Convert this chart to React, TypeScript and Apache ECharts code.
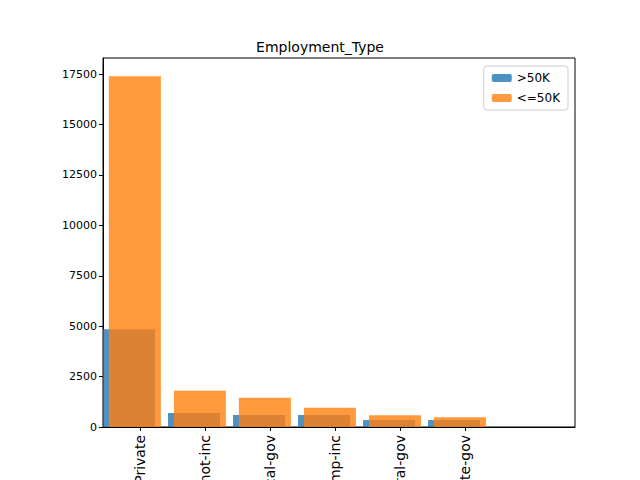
import { useEffect, useRef } from 'react';
import * as echarts from 'echarts';

const categories = ['Private', 'Self-emp-not-inc', 'Local-gov', 'Self-emp-inc', 'Federal-gov', 'State-gov'];
const above50k = [4850, 700, 600, 600, 350, 350];
const below50k = [17400, 1800, 1450, 950, 580, 480];
const tickIdx = [0, 1, 2, 3, 4, 5];

export default function App() {
  const ref = useRef<HTMLDivElement>(null);

  useEffect(() => {
    if (!ref.current) return;
    const chart = echarts.init(ref.current, undefined, { renderer: 'svg' });
    const font = 'DejaVu Sans';
    chart.setOption({
      animation: false,
      textStyle: { fontFamily: font },
      title: {
        text: 'Employment_Type',
        left: 'center',
        top: 35,
        textStyle: { fontSize: 14, fontWeight: 'normal', color: '#000', fontFamily: font },
      },
      legend: {
        right: 72,
        top: 66,
        orient: 'vertical',
        itemWidth: 20,
        itemHeight: 8,
        itemGap: 8,
        padding: [6, 8],
        borderColor: '#ccc',
        borderWidth: 1,
        borderRadius: 3,
        textStyle: { fontSize: 12, color: '#000' },
        data: ['>50K', '<=50K'],
      },
      grid: {
        left: 103,
        right: 65,
        top: 58,
        bottom: 53,
        containLabel: false,
        outerBoundsMode: 'none',
        show: true,
        borderColor: '#000',
        borderWidth: 1,
      },
      xAxis: {
        type: 'value',
        min: -0.57,
        max: 6.69,
        splitLine: { show: false },
        axisLine: { onZero: false, lineStyle: { color: '#000' } },
        axisTick: { show: true, customValues: tickIdx, length: 4, lineStyle: { color: '#000' } },
        axisLabel: {
          customValues: tickIdx,
          rotate: 90,
          fontSize: 14,
          color: '#000',
          margin: 8,
          formatter: (v: number) => categories[Math.round(v)] ?? '',
        },
      },
      yAxis: {
        type: 'value',
        min: 0,
        max: 18300,
        interval: 2500,
        splitLine: { show: false },
        axisLine: { show: true, onZero: false, lineStyle: { color: '#000' } },
        axisTick: { show: true, length: 4, lineStyle: { color: '#000' } },
        axisLabel: { fontSize: 11, color: '#000', margin: 6, showMaxLabel: false, formatter: (v: number) => String(v) },
      },
      series: [
        {
          name: '>50K',
          type: 'bar',
          barWidth: 52,
          barGap: '-100%',
          itemStyle: { color: '#1f77b4', opacity: 0.8 },
          data: above50k.map((v, i) => [i - 0.17, v]),
        },
        {
          name: '<=50K',
          type: 'bar',
          barWidth: 52,
          barGap: '-100%',
          itemStyle: { color: '#ff7f0e', opacity: 0.8 },
          data: below50k.map((v, i) => [i - 0.08, v]),
        },
      ],
    });
    return () => chart.dispose();
  }, []);

  return <div ref={ref} style={{ position: 'fixed', left: 0, top: 0, width: 640, height: 480, background: '#fff' }} />;
}
